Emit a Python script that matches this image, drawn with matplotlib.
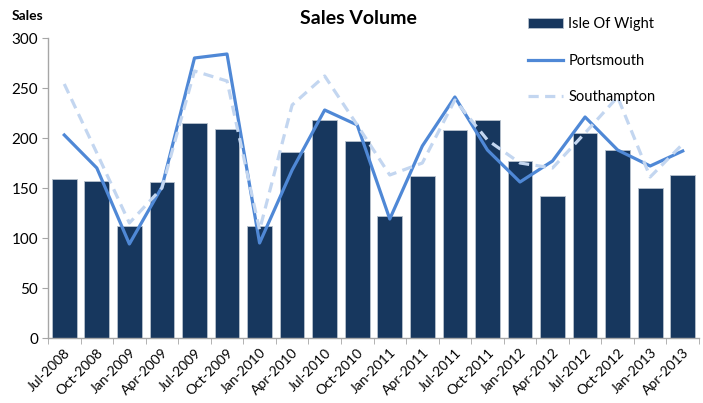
import matplotlib.pyplot as plt
import numpy as np

plt.rcParams['font.family'] = ['Lato', 'DejaVu Sans']

quarters = ["Jul-2008", "Oct-2008", "Jan-2009", "Apr-2009", "Jul-2009", "Oct-2009",
            "Jan-2010", "Apr-2010", "Jul-2010", "Oct-2010", "Jan-2011", "Apr-2011",
            "Jul-2011", "Oct-2011", "Jan-2012", "Apr-2012", "Jul-2012", "Oct-2012",
            "Jan-2013", "Apr-2013"]
isle_of_wight = [159, 157, 112, 156, 215, 209, 112, 186, 218, 197,
                 122, 162, 208, 218, 177, 142, 205, 188, 150, 163]
portsmouth = [203, 170, 94, 151, 280, 284, 95, 168, 228, 213,
              119, 192, 241, 188, 156, 177, 221, 188, 172, 187]
southampton = [254, 185, 115, 150, 267, 257, 108, 233, 262, 213,
               163, 175, 238, 198, 175, 170, 205, 241, 161, 194]

fig = plt.figure(figsize=(7.03, 4.03), dpi=100)
ax = fig.add_axes([48 / 703, 1 - 338 / 403, 651 / 703, 300 / 403])

x = np.arange(len(quarters))
bars = ax.bar(x, isle_of_wight, width=0.76, color="#17375E", edgecolor="#B8C2CE",
              linewidth=0.6, label="Isle Of Wight", zorder=2)
l1, = ax.plot(x, portsmouth, color="#4F88D6", lw=2.3, label="Portsmouth", zorder=3)
l2, = ax.plot(x, southampton, color="#C3D6F0", lw=2.3, ls=(0, (3.2, 2.0)),
              label="Southampton", zorder=3)

ax.set_xlim(-0.5, len(quarters) - 0.5)
ax.set_ylim(0, 300)
ax.set_yticks(range(0, 301, 50))
ax.tick_params(axis="y", labelsize=11, length=4, color="#A6A6A6", pad=3)

ax.set_xticks(x)
ax.set_xticklabels(quarters, rotation=45, ha="right", rotation_mode="anchor", fontsize=10)
ax.tick_params(axis="x", length=0, pad=6)
ax.set_xticks(np.arange(-0.5, len(quarters), 1), minor=True)
ax.tick_params(axis="x", which="minor", length=4, color="#A6A6A6")

for s in ["top", "right"]:
    ax.spines[s].set_visible(False)
for s in ["left", "bottom"]:
    ax.spines[s].set_color("#A6A6A6")
    ax.spines[s].set_linewidth(1)

fig.text(12 / 703, 1 - 16 / 403, "Sales", fontsize=10, fontweight="bold", va="center")
fig.text(358 / 703, 1 - 18 / 403, "Sales Volume", fontsize=14, fontweight="bold",
         ha="center", va="center")

fig.legend([bars, l1, l2], ["Isle Of Wight", "Portsmouth", "Southampton"],
           loc="upper left", bbox_to_anchor=(515 / 703, 1 - 4 / 403),
           frameon=False, fontsize=10.5, labelspacing=1.55,
           handlelength=2.4, handletextpad=0.35)

fig.savefig("out.png", dpi=100)
